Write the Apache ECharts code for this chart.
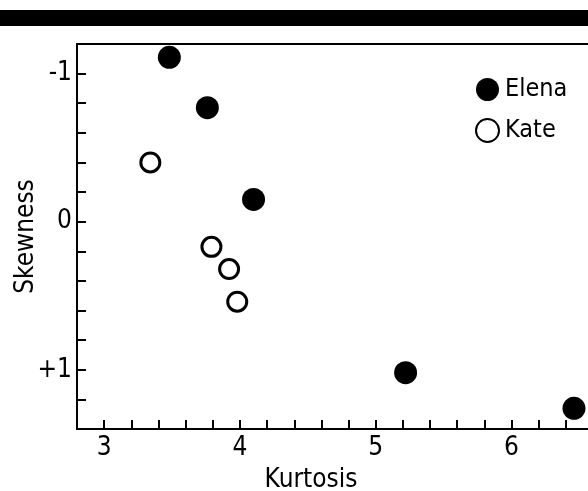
<!DOCTYPE html>
<html>
<head>
<meta charset="utf-8">
<script src="https://cdn.jsdelivr.net/npm/echarts@6/dist/echarts.min.js"></script>
<style>
html,body{margin:0;padding:0;background:#fff;}
#chart{width:588px;height:491px;}
</style>
</head>
<body>
<div id="chart"></div>
<script>
var seriesNames = ['Elena', 'Kate'];
var kurtosisElena = [3.48, 3.76, 4.10, 5.22, 6.46];
var skewnessElena = [-1.11, -0.77, -0.15, 1.02, 1.26];
var kurtosisKate = [3.34, 3.79, 3.92, 3.98];
var skewnessKate = [-0.40, 0.17, 0.32, 0.54];
var xTickLabels = ['3', '4', '5', '6'];
var yTickLabels = {'-1': '-1', '0': '0', '1': '+1'};

var FONT = '"Liberation Sans Narrow", "DejaVu Sans Condensed", "Liberation Sans", sans-serif';

function pairs(xs, ys) { return xs.map(function (x, i) { return [x, ys[i]]; }); }

var chart = echarts.init(document.getElementById('chart'), null, {renderer: 'canvas'});
chart.setOption({
  animation: false,
  backgroundColor: '#fff',
  graphic: [{
    type: 'rect', left: 0, top: 10,
    shape: {width: 588, height: 16},
    style: {fill: '#000'}
  }],
  grid: {
    left: 77, top: 44, bottom: 62, right: -5,
    containLabel: false, outerBoundsMode: 'none',
    show: true, borderColor: '#000', borderWidth: 2, backgroundColor: 'transparent'
  },
  legend: {
    orient: 'vertical', left: 470, top: 72,
    itemWidth: 23, itemHeight: 23, itemGap: 16,
    data: seriesNames,
    textStyle: {fontFamily: FONT, fontSize: 25, color: '#000', lineHeight: 23, padding: [0, 0, 0, 1]}
  },
  xAxis: {
    type: 'value', min: 2.8, max: 6.6, interval: 0.2,
    name: 'Kurtosis', nameLocation: 'middle', nameGap: 38, nameMoveOverlap: false,
    nameTextStyle: {fontFamily: FONT, fontSize: 26, color: '#000', padding: [0, 48, 0, 0]},
    axisLine: {show: true, onZero: false, lineStyle: {color: '#000', width: 2}},
    axisTick: {show: true, inside: true, length: 9, lineStyle: {color: '#000', width: 2}},
    splitLine: {show: false},
    axisLabel: {
      fontFamily: FONT, fontSize: 26, color: '#000', margin: 6,
      formatter: function (v) {
        var r = Math.round(v);
        return Math.abs(v - r) < 1e-6 && xTickLabels.indexOf(String(r)) >= 0 ? String(r) : '';
      }
    }
  },
  yAxis: {
    type: 'value', inverse: true, min: -1.2, max: 1.4, interval: 0.2,
    name: 'Skewness', nameLocation: 'middle', nameGap: 38, nameMoveOverlap: false,
    nameTextStyle: {fontFamily: FONT, fontSize: 26, color: '#000'},
    axisLine: {show: true, onZero: false, lineStyle: {color: '#000', width: 2}},
    axisTick: {show: true, inside: true, length: 9, lineStyle: {color: '#000', width: 2}},
    splitLine: {show: false},
    axisLabel: {
      fontFamily: FONT, fontSize: 26, color: '#000', margin: 5,
      formatter: function (v) {
        var r = Math.round(v);
        if (Math.abs(v - r) > 1e-6) return '';
        return yTickLabels[String(r)] || '';
      }
    }
  },
  series: [{
    name: seriesNames[0], type: 'scatter', symbol: 'circle', symbolSize: 23,
    itemStyle: {color: '#000', opacity: 1},
    data: pairs(kurtosisElena, skewnessElena)
  }, {
    name: seriesNames[1], type: 'scatter', symbol: 'circle', symbolSize: 19,
    itemStyle: {color: '#fff', borderColor: '#000', borderWidth: 3, opacity: 1},
    data: pairs(kurtosisKate, skewnessKate)
  }]
});
</script>
</body>
</html>
